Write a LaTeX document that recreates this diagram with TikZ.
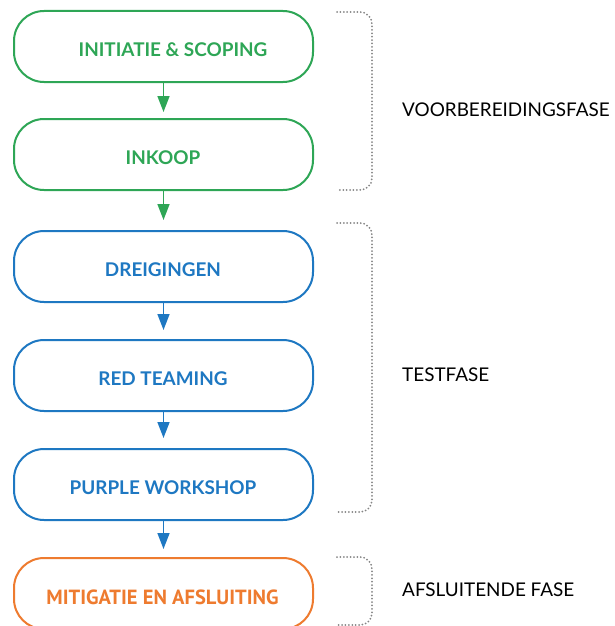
\documentclass[tikz,border=0pt]{standalone}
\usepackage{fontspec}
\setmainfont{Lato}
\newfontfamily\boxfont{Lato}
\newfontfamily\endfont{PT Sans}
\usetikzlibrary{arrows.meta}
\definecolor{cgreen}{HTML}{2EA656}
\definecolor{cblue}{HTML}{1E78C2}
\definecolor{corange}{HTML}{EE7B2F}
\definecolor{cdot}{HTML}{858585}
\tikzset{
  stage/.style={draw, line width=2pt, rounded corners=30pt, minimum width=299pt, minimum height=71pt, inner sep=0pt, fill=white},
  stagetext/.style={inner sep=0pt, font=\boxfont\bfseries\fontsize{18.9}{20}\selectfont},
  flow/.style={line width=1.6pt, -{Triangle[width=12pt,length=16pt]}},
  brace/.style={draw=cdot, line width=2pt, line cap=round, dash pattern=on 0pt off 3.4pt, rounded corners=12pt},
  phase/.style={anchor=west, inner sep=0pt, font=\fontsize{18.9}{20}\selectfont}
}
\begin{document}
\begin{tikzpicture}[x=1pt,y=-1pt]
\useasboundingbox (0,0) rectangle (615,626);
\begin{scope}
\clip (0,0) rectangle (615,626);
% boxes
\node[stage, draw=cgreen] (b1) at (163.5,46.5) {};
\node[stage, draw=cgreen] (b2) at (163.5,154.5) {};
\node[stage, draw=cblue] (b3) at (163.5,266.5) {};
\node[stage, draw=cblue] (b4) at (163.5,375.5) {};
\node[stage, draw=cblue] (b5) at (163.5,484.5) {};
\node[stage, draw=corange] (b6) at (163.5,593.5) {};
% texts
\node[stagetext, text=cgreen] (t1) at (173,50) {INITIATIE \& SCOPING};
\node[stagetext, text=cgreen] (t2) at (163,158) {INKOOP};
\node[stagetext, text=cblue] (t3) at (163,270) {DREIGINGEN};
\node[stagetext, text=cblue] (t4) at (163,379) {RED TEAMING};
\node[stagetext, text=cblue] (t5) at (163,488) {PURPLE WORKSHOP};
\node[stagetext, text=corange, font=\endfont\bfseries\fontsize{20.5}{22}\selectfont] (t6) at (162.5,597) {MITIGATIE EN AFSLUITING};
% arrows
\draw[flow, cgreen, shorten >=6pt] (b1.south) -- (b2.north);
\draw[flow, cgreen, shorten >=10pt] (b2.south) -- (b3.north);
\draw[flow, cblue, shorten >=9pt] (b3.south) -- (b4.north);
\draw[flow, cblue, shorten >=10pt] (b4.south) -- (b5.north);
\draw[flow, cblue, shorten >=8pt] (b5.south) -- (b6.north);
% brackets
\draw[brace] (337,12) -- (372,12) -- (372,190) -- (337,190);
\draw[brace] (337,223) -- (372,223) -- (372,512) -- (337,512);
\draw[brace] (337,557) -- (372,557) -- (372,625) -- (337,625);
\end{scope}
% phase labels
\node[phase] (p1) at (402,110) {VOORBEREIDINGSFASE};
\node[phase] (p2) at (402,375) {TESTFASE};
\node[phase] (p3) at (402,590) {AFSLUITENDE FASE};
\end{tikzpicture}
\end{document}
